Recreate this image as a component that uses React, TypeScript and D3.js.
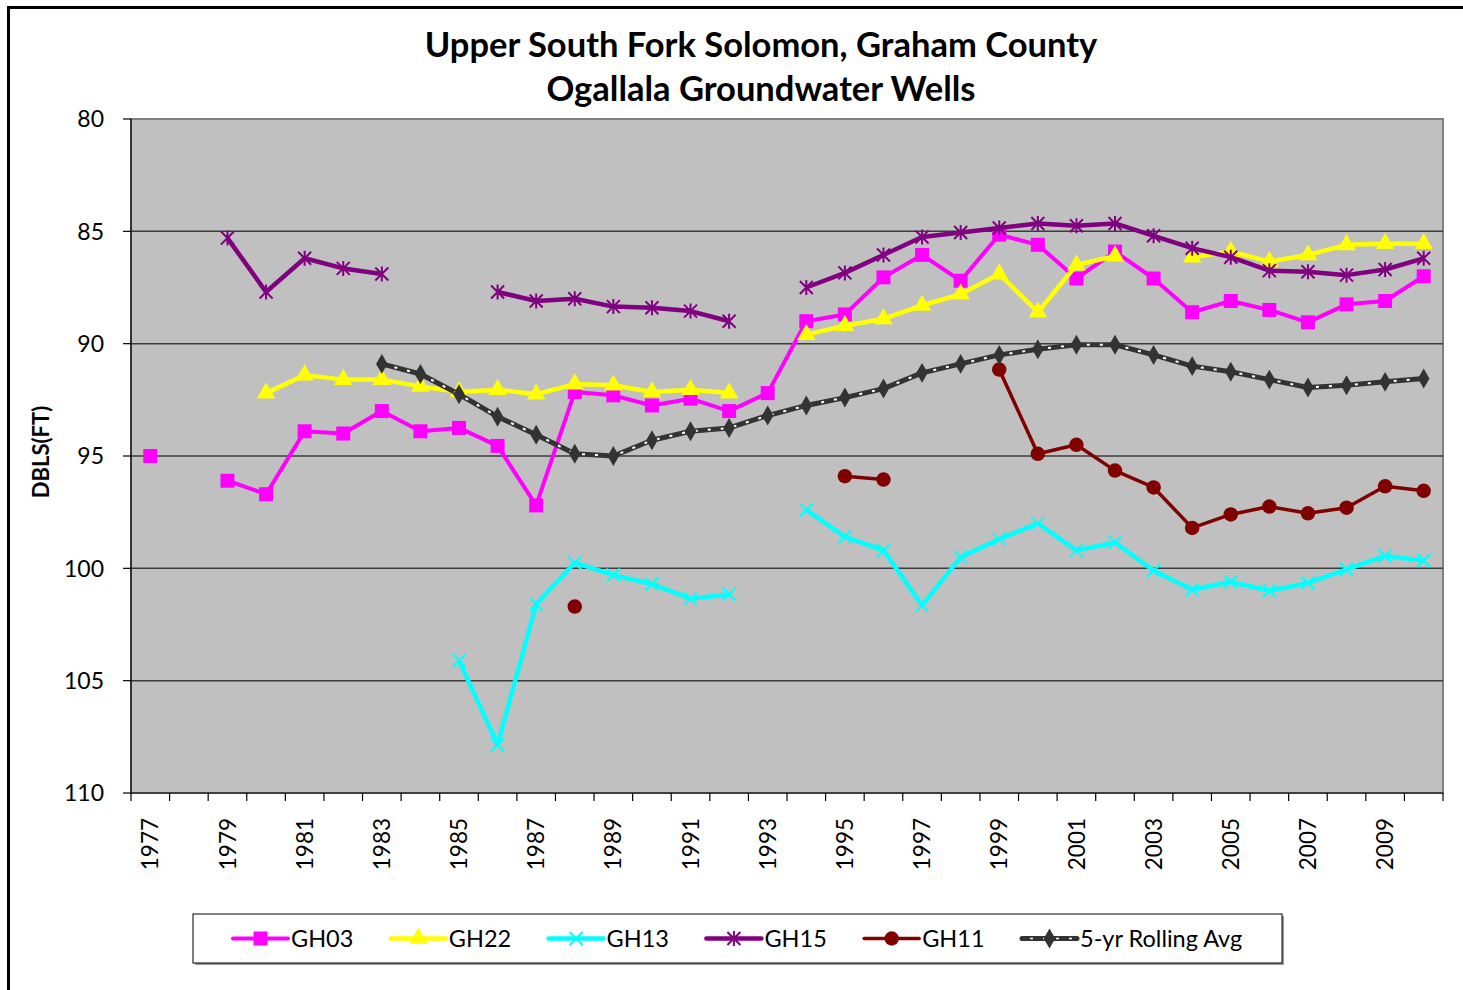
import React from "react";
import * as d3 from "d3";

const years = [
  1977, 1978, 1979, 1980, 1981, 1982, 1983, 1984, 1985, 1986, 1987, 1988,
  1989, 1990, 1991, 1992, 1993, 1994, 1995, 1996, 1997, 1998, 1999, 2000,
  2001, 2002, 2003, 2004, 2005, 2006, 2007, 2008, 2009, 2010,
];

const gh03 = [
  95.0, null, 96.1, 96.7, 93.9, 94.0, 93.0, 93.9, 93.75, 94.55, 97.2, 92.15,
  92.3, 92.75, 92.45, 93.0, 92.2, 89.0, 88.7, 87.05, 86.05, 87.2, 85.15, 85.6,
  87.1, 85.9, 87.1, 88.6, 88.1, 88.5, 89.05, 88.25, 88.1, 87.0,
];
const gh22 = [
  null, null, null, 92.2, 91.4, 91.6, 91.6, 91.9, 92.15, 92.05, 92.25, 91.8,
  91.85, 92.15, 92.05, 92.2, null, 89.6, 89.2, 88.9, 88.3, 87.8, 86.9, 88.6,
  86.5, 86.1, null, 86.15, 85.9, 86.35, 86.05, 85.6, 85.55, 85.55,
];
const gh13 = [
  null, null, null, null, null, null, null, null, 104.1, 107.85, 101.6, 99.75,
  100.3, 100.7, 101.35, 101.15, null, 97.4, 98.6, 99.2, 101.65, 99.5, 98.7, 98.0,
  99.2, 98.85, 100.1, 100.95, 100.6, 101.0, 100.65, 100.05, 99.45, 99.65,
];
const gh15 = [
  null, null, 85.3, 87.7, 86.2, 86.65, 86.9, null, null, 87.7, 88.1, 88.0,
  88.35, 88.4, 88.55, 89.0, null, 87.5, 86.85, 86.05, 85.25, 85.05, 84.85, 84.65,
  84.75, 84.65, 85.2, 85.75, 86.15, 86.75, 86.8, 86.95, 86.7, 86.2,
];
const gh11 = [
  null, null, null, null, null, null, null, null, null, null, null, 101.7,
  null, null, null, null, null, null, 95.9, 96.05, null, null, 91.15, 94.9,
  94.5, 95.65, 96.4, 98.2, 97.6, 97.25, 97.55, 97.3, 96.35, 96.55,
];
const rollingAvg = [
  null, null, null, null, null, null, 90.9, 91.35, 92.25, 93.25, 94.05, 94.9,
  95.0, 94.3, 93.9, 93.75, 93.2, 92.75, 92.4, 92.0, 91.3, 90.9, 90.5, 90.25,
  90.05, 90.05, 90.5, 91.0, 91.25, 91.6, 91.95, 91.85, 91.7, 91.55,
];

const yTicks = [80, 85, 90, 95, 100, 105, 110];
const xLabelYears = years.filter((y) => (y - 1977) % 2 === 0);

type Marker = "square" | "triangle" | "x" | "star" | "circle" | "diamond";

const seriesList: {
  name: string;
  values: (number | null)[];
  color: string;
  width: number;
  marker: Marker;
}[] = [
  { name: "GH03", values: gh03, color: "#ff00ff", width: 4, marker: "square" },
  { name: "GH22", values: gh22, color: "#ffff00", width: 4.5, marker: "triangle" },
  { name: "GH13", values: gh13, color: "#00ffff", width: 4.5, marker: "x" },
  { name: "GH15", values: gh15, color: "#800080", width: 4.5, marker: "star" },
  { name: "GH11", values: gh11, color: "#800000", width: 3.5, marker: "circle" },
  { name: "5-yr Rolling Avg", values: rollingAvg, color: "#333333", width: 5, marker: "diamond" },
];

const FONT = "Lato, 'Open Sans', sans-serif";

function MarkerShape({ type, color, x, y }: { type: Marker; color: string; x: number; y: number }) {
  const t = `translate(${x},${y})`;
  if (type === "square") {
    return <path transform={t} d={d3.symbol().type(d3.symbolSquare).size(196)()!} fill={color} />;
  }
  if (type === "triangle") {
    return <path transform={t} d={d3.symbol().type(d3.symbolTriangle).size(150)()!} fill={color} />;
  }
  if (type === "diamond") {
    return <path transform={t} d={d3.symbol().type(d3.symbolDiamond).size(115)()!} fill={color} />;
  }
  if (type === "circle") {
    return <path transform={t} d={d3.symbol().type(d3.symbolCircle).size(165)()!} fill={color} />;
  }
  const s = 6.5;
  const d =
    type === "x"
      ? `M${-s},${-s}L${s},${s}M${-s},${s}L${s},${-s}`
      : `M${-s},${-s}L${s},${s}M${-s},${s}L${s},${-s}M0,${-s - 1}L0,${s + 1}`;
  return <path transform={t} d={d} stroke={color} strokeWidth={2} fill="none" />;
}

export default function App() {
  const width = 1463;
  const height = 990;
  const plot = { left: 131, right: 1443, top: 119, bottom: 793 };

  const x = d3
    .scaleBand<number>()
    .domain(years)
    .range([plot.left, plot.right])
    .padding(0);
  const cx = (yr: number) => (x(yr) as number) + x.bandwidth() / 2;

  const y = d3.scaleLinear().domain([80, 110]).range([plot.top, plot.bottom]);

  const line = d3
    .line<number | null>()
    .defined((d) => d !== null)
    .x((_, i) => cx(years[i]))
    .y((d) => y(d as number));

  const boundaries = years.map((yr) => x(yr) as number).concat([plot.right]);

  const legend = { x: 193, y: 914, w: 1089, h: 49 };
  const legendStart = 233;
  const legendStep = 157.8;

  return (
    <svg
      width={width}
      height={height}
      style={{ position: "absolute", left: 0, top: 0, background: "#fff" }}
    >
      {/* outer chart border */}
      <rect x={8.5} y={7.5} width={1500} height={1100} fill="#fff" stroke="#000" strokeWidth={3} />

      {/* title */}
      <text x={761} y={57} textAnchor="middle" fontFamily={FONT} fontWeight="bold" fontSize={34.5}>
        Upper South Fork Solomon, Graham County
      </text>
      <text x={761} y={101} textAnchor="middle" fontFamily={FONT} fontWeight="bold" fontSize={34.5}>
        Ogallala Groundwater Wells
      </text>

      {/* plot area */}
      <rect
        x={plot.left}
        y={plot.top}
        width={plot.right - plot.left}
        height={plot.bottom - plot.top}
        fill="#c0c0c0"
        stroke="#808080"
        strokeWidth={2}
      />

      {/* gridlines */}
      {yTicks.slice(1, -1).map((t) => (
        <line key={t} x1={plot.left} x2={plot.right} y1={y(t)} y2={y(t)} stroke="#3c3c3c" strokeWidth={1.5} />
      ))}

      {/* axes */}
      <line x1={plot.left} x2={plot.left} y1={plot.top} y2={plot.bottom} stroke="#000" strokeWidth={1.2} />
      <line x1={plot.left} x2={plot.right} y1={plot.bottom} y2={plot.bottom} stroke="#000" strokeWidth={1.2} />

      {yTicks.map((t) => (
        <g key={t}>
          <line x1={plot.left - 8} x2={plot.left} y1={y(t)} y2={y(t)} stroke="#000" strokeWidth={1.2} />
          <text x={104} y={y(t)} dy="0.36em" textAnchor="end" fontFamily={FONT} fontSize={23}>
            {t}
          </text>
        </g>
      ))}

      {boundaries.map((bx, i) => (
        <line key={i} x1={bx} x2={bx} y1={plot.bottom} y2={plot.bottom + 8} stroke="#000" strokeWidth={1.2} />
      ))}

      {xLabelYears.map((yr) => (
        <text
          key={yr}
          transform={`translate(${cx(yr)},${plot.bottom + 25}) rotate(-90)`}
          dy="0.36em"
          textAnchor="end"
          fontFamily={FONT}
          fontSize={22.5}
        >
          {yr}
        </text>
      ))}

      <text
        transform="translate(41,452) rotate(-90)"
        dy="0.36em"
        textAnchor="middle"
        fontFamily={FONT}
        fontWeight="bold"
        fontSize={22}
      >
        DBLS(FT)
      </text>

      {/* series */}
      {seriesList.map((s) => (
        <g key={s.name}>
          <path d={line(s.values) ?? ""} fill="none" stroke={s.color} strokeWidth={s.width} strokeLinejoin="round" />
          {s.marker === "diamond" && (
            <path d={line(s.values) ?? ""} fill="none" stroke="#fff" strokeWidth={2} strokeDasharray="3 10" />
          )}
          {s.values.map((v, i) =>
            v === null ? null : (
              <MarkerShape key={i} type={s.marker} color={s.color} x={cx(years[i])} y={y(v)} />
            )
          )}
        </g>
      ))}

      {/* legend */}
      <rect x={legend.x + 2} y={legend.y + 2} width={legend.w} height={legend.h} fill="#9a9a9a" />
      <rect x={legend.x} y={legend.y} width={legend.w} height={legend.h} fill="#fff" stroke="#000" strokeWidth={1} />
      {seriesList.map((s, i) => {
        const lx = legendStart + i * legendStep;
        const ly = legend.y + legend.h / 2;
        return (
          <g key={s.name}>
            <line x1={lx} x2={lx + 55} y1={ly} y2={ly} stroke={s.color} strokeWidth={s.width} strokeLinecap="round" />
            {s.marker === "diamond" && (
              <line x1={lx} x2={lx + 55} y1={ly} y2={ly} stroke="#fff" strokeWidth={1.5} strokeDasharray="3 10" strokeDashoffset={-8} />
            )}
            <MarkerShape type={s.marker} color={s.color} x={lx + 27.5} y={ly} />
            <text x={lx + 58} y={ly} dy="0.36em" fontFamily={FONT} fontSize={23.5}>
              {s.name}
            </text>
          </g>
        );
      })}
    </svg>
  );
}
